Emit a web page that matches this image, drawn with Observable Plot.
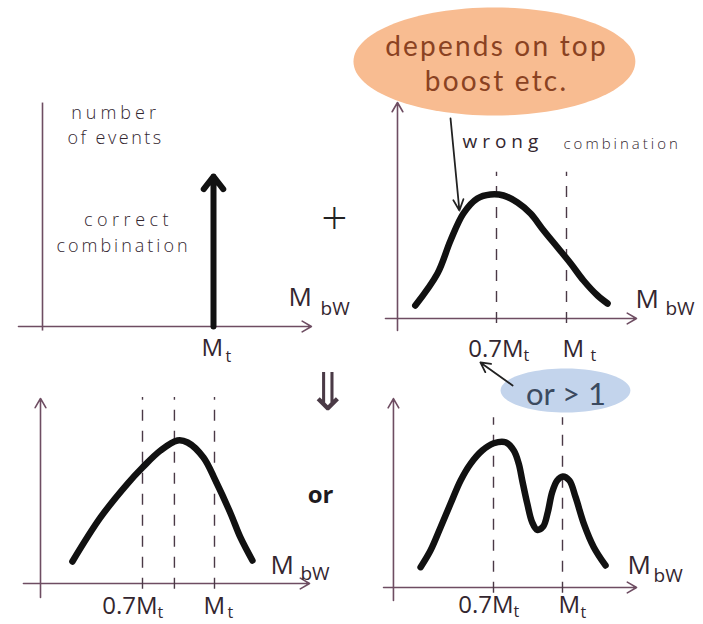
<!DOCTYPE html>
<html>
<head>
<meta charset="utf-8">
<script src="https://cdn.jsdelivr.net/npm/d3@7"></script>
<script src="https://cdn.jsdelivr.net/npm/@observablehq/plot@0.6"></script>
<style>
  html, body { margin: 0; padding: 0; background: #fff; }
  #sketch { position: relative; width: 703px; height: 624px; overflow: hidden; background: #fff; }
  #sketch svg { position: absolute; }
</style>
</head>
<body>
<div id="sketch"></div>
<script>
// M_bW spectra sketched for boosted top decays.
// Mass axis in units of the top mass M_t, heights in arbitrary event counts.

// Correct b-W combination: a sharp peak at M_t
const correctPeak = [1.0];

// Wrong combination: broad bump peaking near 0.7 M_t
const wrongX = [0.352, 0.447, 0.503, 0.558, 0.618, 0.674, 0.730, 0.790, 0.846, 0.902, 0.962, 1.018, 1.073, 1.133, 1.176];
const wrongY = [0.104, 0.360, 0.624, 0.840, 0.960, 0.992, 0.984, 0.928, 0.840, 0.704, 0.568, 0.440, 0.304, 0.184, 0.120];
const wrongRefs = [0.7, 1.0];

// Sum, merged into one peak between 0.7 M_t and M_t
const mergedX = [0.408, 0.525, 0.638, 0.700, 0.775, 0.846, 0.888, 0.954, 1.004, 1.067, 1.108, 1.158];
const mergedY = [0.154, 0.462, 0.699, 0.811, 0.930, 1.000, 0.986, 0.881, 0.720, 0.490, 0.322, 0.161];
const mergedRefs = [0.7, 0.833, 1.0];

// Sum, resolved into two peaks
const twoPeakX = [0.383, 0.426, 0.470, 0.513, 0.557, 0.600, 0.651, 0.701, 0.752, 0.788, 0.810, 0.825, 0.847, 0.868, 0.890, 0.916, 0.936, 0.955, 0.977, 1.001, 1.030, 1.057, 1.093, 1.136, 1.187];
const twoPeakY = [0.140, 0.255, 0.416, 0.577, 0.738, 0.853, 0.945, 0.995, 1.002, 0.945, 0.853, 0.738, 0.577, 0.450, 0.398, 0.421, 0.519, 0.657, 0.738, 0.766, 0.738, 0.623, 0.439, 0.278, 0.152];
const twoPeakRefs = [0.7, 1.0];

const zipCurve = (xs, ys) => xs.map((x, i) => ({x, y: ys[i]}));

const ink = "#33262f";
const axisInk = "#6e4d62";
const hand = "'Open Sans', 'DejaVu Sans', sans-serif";
const round = "Lato, 'Open Sans', sans-serif";

// letter spacing for the hand-lettered words
const spacing = {
  "number": "4px", "of events": "2.5px", "correct": "4.5px", "combination": "3px",
  "wrong": "5px", "depends on top": "2.2px", "boost etc.": "2.2px"
};

// ellipse-shaped symbol for the speech bubbles
function ellipseSymbol(aspect) {
  const k = 0.5522847;
  return {
    draw(context, size) {
      const ry = Math.sqrt(size / Math.PI), rx = ry * aspect;
      context.moveTo(rx, 0);
      context.bezierCurveTo(rx, k * ry, k * rx, ry, 0, ry);
      context.bezierCurveTo(-k * rx, ry, -rx, k * ry, -rx, 0);
      context.bezierCurveTo(-rx, -k * ry, -k * rx, -ry, 0, -ry);
      context.bezierCurveTo(k * rx, -ry, rx, -k * ry, rx, 0);
      context.closePath();
    }
  };
}

function frameAxes({x0, x1, yAt, yLow, yHigh, yArrow = true}) {
  const line = {stroke: axisInk, strokeWidth: 1.6, headLength: 10, headAngle: 60};
  return [
    Plot.arrow([0], {x1: x0, x2: x1, y1: 0, y2: 0, ...line}),
    yArrow
      ? Plot.arrow([0], {x1: yAt, x2: yAt, y1: yLow, y2: yHigh, ...line})
      : Plot.link([0], {x1: yAt, x2: yAt, y1: yLow, y2: yHigh, stroke: axisInk, strokeWidth: 1.6})
  ];
}

function massCurve(points) {
  return Plot.line(points, {x: "x", y: "y", curve: "catmull-rom", stroke: "#111", strokeWidth: 6.5, strokeLinecap: "round", strokeLinejoin: "round"});
}

function refLines(refs, top) {
  return Plot.ruleX(refs, {x: d => d, y1: -0.04, y2: top, stroke: "#4a3946", strokeWidth: 1.4, strokeDasharray: "11,10"});
}

function note(word, x, y, size, opts = {}) {
  return Plot.text([word], {x, y, text: d => d, fontSize: size, fontFamily: hand, fontWeight: 300, fill: ink, ...opts});
}

// "M_t" style label made of a base and a subscript
function subLabel(x, y, base, sub, {dx = 0, dy = 0, anchor = "start", size = 24, subDx = 0, subDy = 7, subSize = 16, fill = ink} = {}) {
  return [
    Plot.text([base], {x, y, text: d => d, dx, dy, textAnchor: anchor, fontSize: size, fontFamily: hand, fill}),
    Plot.text([sub], {x, y, text: d => d, dx: subDx, dy: dy + subDy, textAnchor: "start", fontSize: subSize, fontFamily: hand, fill})
  ];
}

function axisTitle(xM, yM, xSub, ySub) {
  return [
    Plot.text(["M"], {x: xM, y: yM, text: d => d, textAnchor: "start", fontSize: 26, fontFamily: hand, fill: ink}),
    Plot.text(["bW"], {x: xSub, y: ySub, text: d => d, textAnchor: "start", fontSize: 19, fontFamily: hand, fill: ink})
  ];
}

function sketchPanel({left, top, width, height, xRange, yRange, marks}) {
  const svg = Plot.plot({
    width, height,
    x: {domain: [0.7, 1], range: xRange, axis: null},
    y: {domain: [0, 1], range: yRange, axis: null},
    style: {background: "transparent", overflow: "visible"},
    marks
  });
  svg.style.left = left + "px";
  svg.style.top = top + "px";
  document.getElementById("sketch").append(svg);
}

// Top left: correct combination
sketchPanel({
  left: 0, top: 80, width: 350, height: 290,
  xRange: [141, 213], yRange: [246, 96],
  marks: [
    ...frameAxes({x0: 0.1875, x1: 1.408, yAt: 0.2875, yLow: -0.027, yHigh: 1.493, yArrow: false}),
    Plot.arrow(correctPeak, {x1: d => d, x2: d => d, y1: 0, y2: 1, stroke: "#111", strokeWidth: 6, headLength: 4, headAngle: 75}),
    note("number", 0.592, 1.42, 18),
    note("of events", 0.592, 1.253, 18),
    note("correct", 0.646, 0.707, 18),
    note("combination", 0.625, 0.533, 18),
    ...subLabel(1, 0, "M", "t", {dx: -12, dy: 22, subDx: 12, subDy: 8}),
    ...axisTitle(1.3125, 0.193, 1.446, 0.12),
    Plot.text(["+"], {x: 1.504, y: 0.713, text: d => d, fontSize: 46, fontWeight: 300, fontFamily: hand, fill: "#222"})
  ]
});

// Top right: wrong combination
sketchPanel({
  left: 350, top: 0, width: 353, height: 370,
  xRange: [146, 216], yRange: [318, 193],
  marks: [
    Plot.dot([0], {x: 0.691, y: 2.056, r: 54, symbol: ellipseSymbol(2.61), fill: "#f8bc91", stroke: "none"}),
    Plot.text(["depends on top"], {x: 0.7, y: 2.168, text: d => d, fontSize: 28, fontFamily: round, fill: "#8a4222"}),
    Plot.text(["boost etc."], {x: 0.7, y: 1.888, text: d => d, fontSize: 28, fontFamily: round, fill: "#8a4222"}),
    ...frameAxes({x0: 0.2242, x1: 1.30, yAt: 0.2757, yLow: -0.096, yHigh: 1.728}),
    refLines(wrongRefs, 1.17),
    massCurve(zipCurve(wrongX, wrongY)),
    Plot.arrow([0], {x1: 0.503, y1: 1.60, x2: 0.541, y2: 0.864, stroke: "#222", strokeWidth: 1.8, headLength: 10, headAngle: 50}),
    note("wrong", 0.554, 1.416, 19, {textAnchor: "start", fontWeight: 400}),
    note("combination", 0.987, 1.392, 15, {textAnchor: "start"}),
    ...subLabel(0.7, 0, "0.7M", "t", {dx: 27, dy: 31, anchor: "end", subDx: 27, subDy: 6}),
    ...subLabel(1, 0, "M", "t", {dx: -4, dy: 31, subDx: 24, subDy: 6}),
    ...axisTitle(1.296, 0.152, 1.424, 0.08)
  ]
});

// Bottom left: sum with a single merged peak
sketchPanel({
  left: 0, top: 370, width: 350, height: 254,
  xRange: [142, 214], yRange: [213, 70],
  marks: [
    ...frameAxes({x0: 0.204, x1: 1.396, yAt: 0.275, yLow: -0.098, yHigh: 1.294}),
    refLines(mergedRefs, 1.30),
    massCurve(zipCurve(mergedX, mergedY)),
    ...subLabel(0.7, 0, "0.7M", "t", {dx: 15, dy: 23, anchor: "end", subDx: 15, subDy: 6}),
    ...subLabel(1, 0, "M", "t", {dx: -11, dy: 23, subDx: 13, subDy: 6}),
    ...axisTitle(1.233, 0.126, 1.358, 0.07),
    Plot.text(["⇓"], {x: 1.471, y: 1.33, text: d => d, fontSize: 52, fontWeight: 100, fontFamily: "'DejaVu Sans', sans-serif", fill: "#4a3a46"}),
    Plot.text(["or"], {x: 1.442, y: 0.615, text: d => d, fontSize: 24, fontWeight: 700, fontFamily: hand, fill: "#1e1a1e"})
  ]
});

// Bottom right: sum with two resolved peaks
sketchPanel({
  left: 350, top: 355, width: 353, height: 269,
  xRange: [143, 212], yRange: [232, 87],
  marks: [
    ...frameAxes({x0: 0.222, x1: 1.322, yAt: 0.265, yLow: -0.09, yHigh: 1.303}),
    refLines(twoPeakRefs, 1.17),
    massCurve(zipCurve(twoPeakX, twoPeakY)),
    Plot.dot([0], {x: 1.013, y: 1.359, r: 22, symbol: ellipseSymbol(2.95), fill: "#c3d4ec", stroke: "none"}),
    Plot.text(["or > 1"], {x: 1.015, y: 1.33, text: d => d, fontSize: 31, fontFamily: round, fill: "#3b4a60"}),
    Plot.arrow([0], {x1: 0.783, y1: 1.393, x2: 0.643, y2: 1.552, stroke: "#222", strokeWidth: 1.8, headLength: 9, headAngle: 55}),
    ...subLabel(0.7, 0, "0.7M", "t", {dx: 20, dy: 18, anchor: "end", subDx: 20, subDy: 6}),
    ...subLabel(1, 0, "M", "t", {dx: -4, dy: 18, subDx: 18, subDy: 7}),
    ...axisTitle(1.283, 0.152, 1.396, 0.083)
  ]
});

// hand-lettered spacing
document.querySelectorAll("#sketch text").forEach((t) => {
  const s = spacing[t.textContent];
  if (s) t.style.letterSpacing = s;
});
</script>
</body>
</html>
